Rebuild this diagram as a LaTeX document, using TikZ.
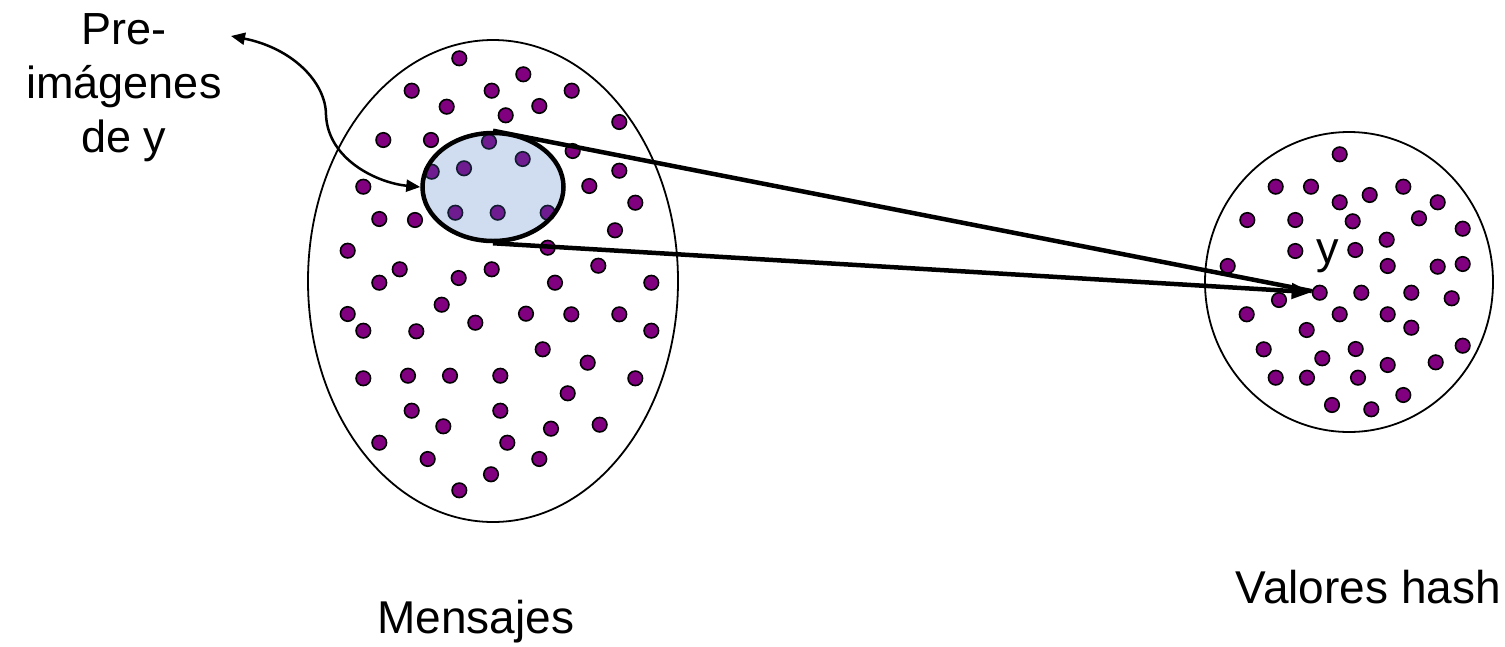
\documentclass[tikz,border=0pt]{standalone}
\usepackage{fontspec}
\setmainfont{Liberation Sans}
\usetikzlibrary{shapes.geometric,arrows.meta}
\definecolor{dotpurple}{RGB}{128,0,128}
\definecolor{preblue}{RGB}{68,114,196}
\tikzset{
  dot/.style={circle, fill=dotpurple, draw=black, line width=1.6pt, minimum size=14.5pt, inner sep=0pt},
  setshape/.style={ellipse, draw=black, line width=1.8pt, inner sep=0pt},
  preshape/.style={ellipse, draw=black, line width=4.5pt, fill=preblue, fill opacity=0.25, draw opacity=1, inner sep=0pt},
  maparrow/.style={line width=4.5pt},
  notearrow/.style={line width=2.5pt, {Triangle[length=14pt,width=12pt]}-{Triangle[length=14pt,width=12pt]}},
  bigtext/.style={font=\fontsize{45}{54}\selectfont, inner sep=0pt},
  labeltext/.style={font=\fontsize{46}{55}\selectfont, inner sep=0pt}
}
\begin{document}
\begin{tikzpicture}[x=1pt,y=-1pt]
\useasboundingbox (0,0) rectangle (1505,646);
% sets
\node[setshape, minimum width=370pt, minimum height=482pt] (msgs) at (493,281) {};
\node[setshape, minimum width=288pt, minimum height=300pt] (hashes) at (1349,282) {};
% message dots
\foreach \px/\py [count=\i] in {
459.3/58.3, 523.3/74.3, 411.7/90.7, 491.7/90.7, 571.7/90.7, 446.7/106.7, 539.3/106, 505.7/115.3,
619.3/122, 383.3/140, 431/140, 489/141.7, 572.7/151, 522.7/159, 431.7/171.7, 464/168.3,
619.3/170.7, 363.3/186.7, 589.3/186, 635.3/202.7, 379.3/219, 415/220, 455.3/212.7, 497.7/212.7,
547.7/212.7, 615/230.3, 547.7/247.7, 347.7/250.7, 598.3/265.7, 399.7/269.3, 491.7/269.3,
379.3/282.7, 458.7/278, 555/282.7, 651.3/282.7, 441.7/304.7, 347.7/314, 363.3/330.7, 416.3/331.3,
475.3/322.7, 526/313.7, 571.3/314.3, 619.3/314.3, 651.3/330.7, 542.7/349.3, 587.7/362.7,
363.3/378.3, 408/375.7, 450/375.7, 500.3/375.7, 635.3/378.3, 567.7/393.3, 411.7/410.7,
500.3/410.7, 443.3/426.3, 551/428.7, 599.7/424.7, 379.3/442.7, 507.3/442.7, 427.7/459,
539.3/459, 491/474.3, 459.3/490.3}
  \node[dot] (m\i) at (\px,\py) {};
% hash dots
\foreach \px/\py [count=\i] in {
1339.7/154.3, 1275.7/186.7, 1311/186.7, 1339.7/202.3, 1369.7/195, 1403.3/186.7, 1437.7/202.3,
1247.3/220, 1295.3/220, 1352.7/221.3, 1419/218.3, 1462.7/228.7, 1386.7/239.7, 1295.3/251,
1355.3/250, 1227.7/266, 1387.7/266, 1437.7/266.7, 1462.7/264, 1361.3/292.7,
1411.3/292.7, 1451.7/298.3, 1279/300, 1246.7/314.3, 1339.7/314.3, 1387.7/314.3, 1411.3/327.7,
1306.7/330, 1462.7/345.7, 1263.7/349.3, 1355.7/349, 1322.3/358.3, 1387.7/365, 1435.7/362.3,
1275.7/377.7, 1307/377.7, 1358/377.7, 1403.3/395, 1332/405, 1371.3/409.3}
  \node[dot] (h\i) at (\px,\py) {};
\node[dot] (ydot) at (1319.7,292.7) {};
% preimage set
\node[preshape, minimum width=141pt, minimum height=108pt] (pre) at (493,187) {};
% mapping lines
\draw[maparrow] (pre.north) -- (ydot);
\draw[maparrow, -{Triangle[length=20pt,width=15pt]}] (pre.south) -- (ydot);
% labels
\node[bigtext, align=center] (prelbl) at (124,88) {Pre-\\imágenes\\de y};
\node[bigtext, anchor=base] (ylbl) at (1328,263) {y};
\node[labeltext, anchor=base west] (msglbl) at (377,633) {Mensajes};
\node[labeltext, anchor=base east] (hashlbl) at (1501,603) {Valores hash};
% note arrow
\coordinate (notetip) at (231,36);
\draw[notearrow] (notetip) .. controls (292,48) and (326,82) .. (326,115)
  .. controls (328,160) and (378,183) .. (pre.west);
\end{tikzpicture}
\end{document}
